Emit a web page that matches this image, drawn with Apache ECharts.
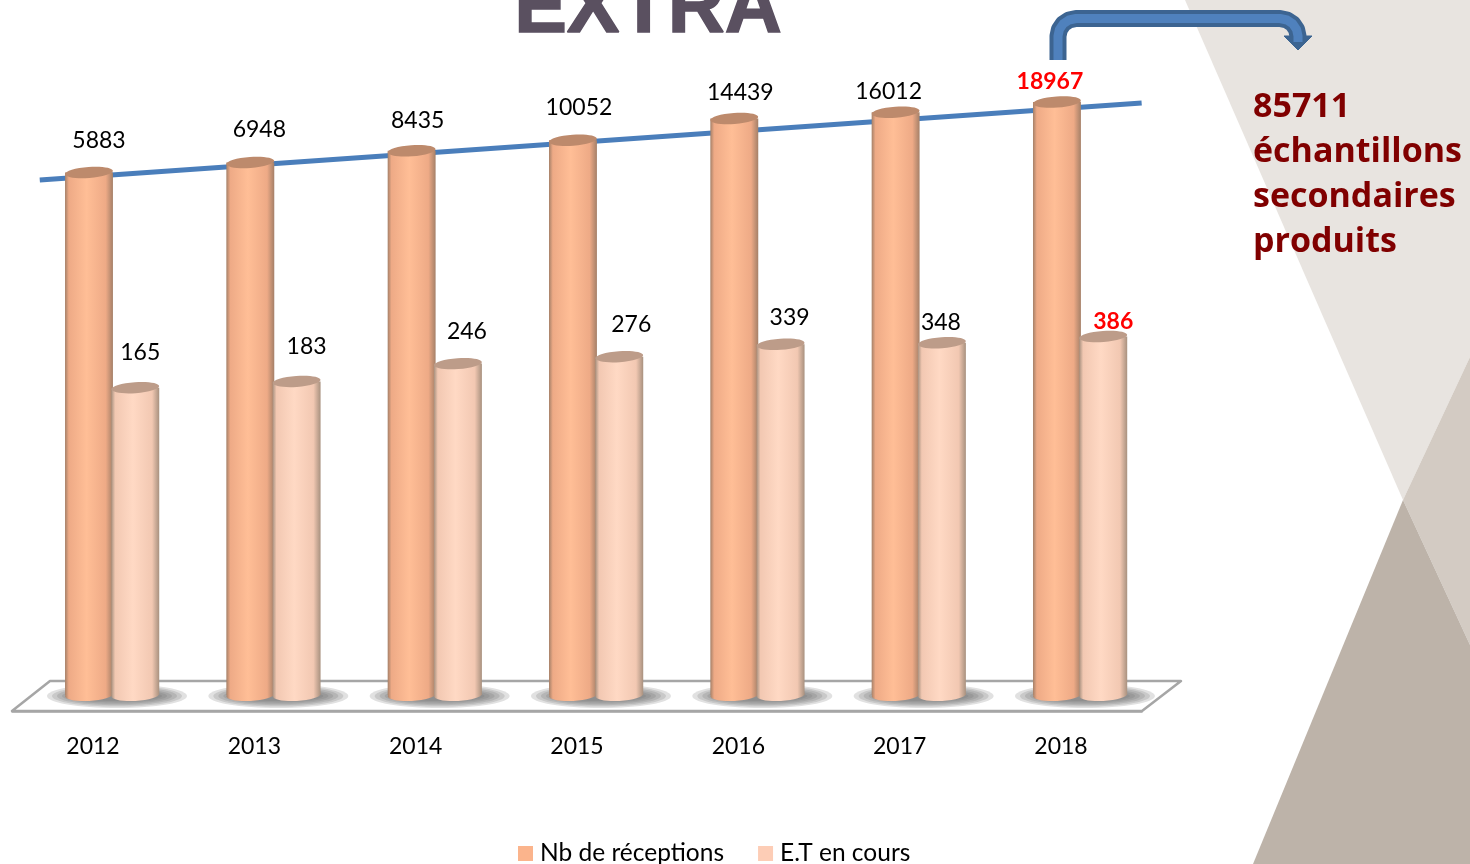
<!DOCTYPE html>
<html>
<head>
<meta charset="utf-8">
<style>
  html, body { margin: 0; padding: 0; background: #fff; }
  #chart { width: 1470px; height: 864px; }
</style>
<script src="https://cdn.jsdelivr.net/npm/echarts@6/dist/echarts.min.js"></script>
</head>
<body>
<div id="chart"></div>
<script>
// donnees
const years = ["2012", "2013", "2014", "2015", "2016", "2017", "2018"];
const receptions = [5883, 6948, 8435, 10052, 14439, 16012, 18967];
const etEnCours = [165, 183, 246, 276, 339, 348, 386];
// courbe de tendance : position sur l'axe x masque, valeur sur l'axe log
const trendX = [0.17, 7];
const trendY = [6780, 24370];
// decalage des etiquettes, placees a la main dans l'original
const receptionsNudge = [[10, -32], [9, -33], [6, -30], [6, -33], [6, -26], [-7, -21], [-7, -20]];
const etNudge = [[5, -35], [10, -35], [9, -32], [12, -32], [9, -27], [-1, -20], [10, -15]];

const labelFont = "Lato, 'Noto Sans', sans-serif";
const lastYear = years.length - 1;

// trace de la fleche, coins arrondis
const arrowPoints = [
  [1058, 60], [1058, 36], [1059.4, 29.5], [1063.3, 23.8], [1069, 20], [1076, 18.5],
  [1280, 18.5], [1287, 20], [1292.7, 23.8], [1296.6, 29.5], [1298, 36], [1298, 42]
];

const sideGradient = (edge, mid, light) => ({
  type: "linear", x: 0, y: 0, x2: 1, y2: 0,
  colorStops: [
    { offset: 0, color: edge },
    { offset: 0.08, color: mid },
    { offset: 0.45, color: light },
    { offset: 0.85, color: mid },
    { offset: 1, color: edge }
  ]
});

// cylindre dessine depuis les echelles de l'axe
const cylinder = (style, values, nudges, shift, withShadow) => (params, api) => {
  const i = api.value(0);
  const band = api.size([1, 0])[0];
  const top = api.coord([i, api.value(1)]);
  const base = api.coord([i, 1]);
  const cx = top[0] + band * shift;
  const w = band * 0.297;
  const depth = 16;
  const yTop = top[1] - depth;
  const yBase = base[1] - depth;
  const fill = sideGradient(style.edge, style.mid, style.light);
  const children = [];
  if (withShadow) {
    // ombre floue au sol : ellipses empilees
    for (let k = 0; k < 6; k++) {
      children.push({
        type: "ellipse",
        shape: { cx: cx + 28, cy: yBase + 1, rx: 70 - k * 5, ry: 12 - k * 1.4 },
        style: { fill: "rgba(105,105,105,0.2)" }
      });
    }
  }
  children.push(
    {
      type: "ellipse",
      shape: { cx: cx, cy: yBase, rx: w / 2, ry: 6 },
      originX: cx, originY: yBase, rotation: 0.05,
      style: { fill: fill }
    },
    {
      type: "rect",
      shape: { x: cx - w / 2, y: yTop, width: w, height: yBase - yTop },
      style: { fill: fill }
    },
    {
      type: "ellipse",
      shape: { cx: cx, cy: yTop, rx: w / 2, ry: 5.5 },
      originX: cx, originY: yTop, rotation: 0.07,
      style: { fill: style.cap }
    },
    {
      type: "text",
      style: {
        text: String(values[i]),
        x: cx + nudges[i][0],
        y: yTop + nudges[i][1],
        align: "center",
        verticalAlign: "middle",
        fill: i === lastYear ? "#ff0000" : "#000000",
        font: (i === lastYear ? "bold " : "") + "23px " + labelFont
      }
    }
  );
  return { type: "group", children: children };
};

const chart = echarts.init(document.getElementById("chart"));
chart.setOption({
  animation: false,
  backgroundColor: "#ffffff",
  grid: { left: 12.35, width: 1129.3, top: 18, height: 693 },
  xAxis: [
    {
      type: "category",
      data: years,
      axisLine: { show: true, lineStyle: { color: "#a6a6a6", width: 2.5 } },
      axisTick: { show: false },
      axisLabel: { color: "#000000", fontFamily: labelFont, fontSize: 23, margin: 24 }
    },
    { type: "value", min: 0, max: 7, show: false }
  ],
  yAxis: {
    type: "log",
    min: 1,
    max: 100000,
    show: false,
    splitLine: { show: false }
  },
  legend: {
    data: ["Nb de réceptions", "E.T en cours"],
    left: 518,
    top: 841,
    padding: 0,
    icon: "rect",
    itemWidth: 15,
    itemHeight: 15,
    itemGap: 34,
    textStyle: { color: "#000000", fontFamily: labelFont, fontSize: 24.5, padding: [0, 0, 0, 2] }
  },
  series: [
    {
      name: "Tendance",
      type: "line",
      xAxisIndex: 1,
      data: trendX.map((x, i) => [x, trendY[i]]),
      symbol: "none",
      z: 1,
      clip: false,
      lineStyle: { color: "#4a7ebb", width: 5 }
    },
    {
      name: "Nb de réceptions",
      type: "custom",
      z: 2,
      clip: false,
      itemStyle: { color: "#fbb48c" },
      encode: { x: 0, y: 1 },
      data: receptions.map((v, i) => [i, v]),
      renderItem: cylinder(
        { edge: "#a58068", mid: "#eeaa86", light: "#ffbe96", cap: "#bd8a6c" },
        receptions, receptionsNudge, -0.025, true
      )
    },
    {
      name: "E.T en cours",
      type: "custom",
      z: 3,
      clip: false,
      itemStyle: { color: "#fdcdb6" },
      encode: { x: 0, y: 1 },
      data: etEnCours.map((v, i) => [i, v]),
      renderItem: cylinder(
        { edge: "#a8917f", mid: "#f2c8b2", light: "#ffd9c4", cap: "#bd9c89" },
        etEnCours, etNudge, 0.262, false
      )
    }
  ],
  graphic: [
    // fond du diaporama
    { type: "polygon", z: -5, shape: { points: [[1185, 0], [1470, 0], [1470, 357], [1403, 500]] }, style: { fill: "#e8e4e0" } },
    { type: "polygon", z: -4, shape: { points: [[1403, 500], [1470, 357], [1470, 645]] }, style: { fill: "#d3cbc3" } },
    { type: "polygon", z: -3, shape: { points: [[1403, 500], [1470, 645], [1470, 864], [1253, 864]] }, style: { fill: "#bdb3a9" } },
    // plateau sous les barres
    {
      type: "polygon", z: -2,
      shape: { points: [[12, 711], [1142, 711], [1181, 681], [50, 681]] },
      style: { fill: "#ffffff", stroke: "#a6a6a6", lineWidth: 2.5, lineJoin: "round" }
    },
    // titre coupe en haut
    {
      type: "text", z: 1, x: 648, y: 50,
      style: {
        text: "EXTRA", align: "center", verticalAlign: "bottom", fill: "#5a5060",
        stroke: "#5a5060", lineWidth: 1.5, font: "bold 79px 'Liberation Sans', sans-serif"
      }
    },
    // fleche vers le total
    {
      type: "polyline", z: 5,
      shape: { points: arrowPoints },
      style: { fill: "none", stroke: "#3c6491", lineWidth: 17, lineJoin: "round" }
    },
    {
      type: "polygon", z: 5,
      shape: { points: [[1284, 36], [1312, 36], [1298, 50]] },
      style: { fill: "#3c6491", stroke: "#3c6491", lineWidth: 1 }
    },
    {
      type: "polyline", z: 6,
      shape: { points: arrowPoints },
      style: { fill: "none", stroke: "#4f81bd", lineWidth: 9, lineJoin: "round" }
    },
    // total a droite
    {
      type: "text", z: 7, x: 1253, y: 85,
      style: {
        text: "85711\néchantillons\nsecondaires\nproduits",
        fill: "#800000",
        font: "bold 34px 'Open Sans', sans-serif",
        lineHeight: 45
      }
    }
  ]
});
</script>
</body>
</html>
